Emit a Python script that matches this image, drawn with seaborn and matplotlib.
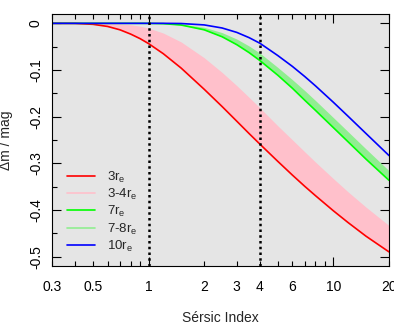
import matplotlib
matplotlib.use("Agg")
import matplotlib.pyplot as plt
import seaborn as sns
from matplotlib.ticker import FixedLocator, FixedFormatter
from matplotlib.lines import Line2D

# Sersic index samples and magnitude offsets
sersic_n = [0.3, 0.4, 0.5, 0.6, 0.7, 0.8, 0.9, 1.0, 1.2, 1.5, 2, 2.5, 3, 3.5, 4,
            5, 6, 7, 8, 10, 12, 15, 20]
dm_3re = [0.0, -0.0002, -0.0021, -0.0067, -0.0139, -0.0231, -0.0329, -0.0435,
          -0.065, -0.0959, -0.1414, -0.1784, -0.2097, -0.2363, -0.2588,
          -0.2957, -0.3252, -0.3493, -0.3693, -0.4017, -0.4268, -0.456, -0.4898]
dm_4re = [0.0, 0.0, 0.0, -0.0003, -0.0012, -0.0031, -0.0061, -0.0102,
          -0.0208, -0.0399, -0.0738, -0.1053, -0.1335, -0.1587, -0.181,
          -0.2195, -0.2497, -0.2753, -0.2973, -0.3328, -0.361, -0.3937, -0.4333]
dm_7re = [0.0, 0.0, 0.0, 0.0, 0.0, 0.0, 0.0, -0.0001,
          -0.0007, -0.0036, -0.0139, -0.0288, -0.0457, -0.0628, -0.0797,
          -0.1111, -0.1391, -0.1648, -0.1865, -0.2235, -0.2537, -0.2908, -0.3364]
dm_8re = [0.0, 0.0, 0.0, 0.0, 0.0, 0.0, 0.0, 0.0,
          -0.0002, -0.0017, -0.0085, -0.0199, -0.0337, -0.0486, -0.0637,
          -0.0944, -0.1207, -0.1441, -0.1654, -0.202, -0.2321, -0.269, -0.3158]
dm_10re = [0.0, 0.0, 0.0, 0.0, 0.0, 0.0, 0.0, 0.0,
           0.0, -0.0004, -0.0034, -0.01, -0.0194, -0.0307, -0.0426,
           -0.069, -0.0923, -0.114, -0.134, -0.1692, -0.199, -0.2359, -0.2833]

marker_n = [1, 4]

x_major = [1, 10]
x_major_labels = ["1", "10"]
x_minor = [0.3, 0.4, 0.5, 0.6, 0.7, 0.8, 0.9, 2, 3, 4, 5, 6, 7, 8, 9, 20]
x_minor_labels = ["0.3", "", "0.5", "", "", "", "", "2", "3", "4", "", "6", "", "", "", "20"]
y_major = [0, -0.1, -0.2, -0.3, -0.4, -0.5]
y_major_labels = ["0", "-0.1", "-0.2", "-0.3", "-0.4", "-0.5"]
y_minor = [-0.05, -0.15, -0.25, -0.35, -0.45]

legend_labels = ["3r$_\\mathregular{e}$", "3-4r$_\\mathregular{e}$", "7r$_\\mathregular{e}$",
                 "7-8r$_\\mathregular{e}$", "10r$_\\mathregular{e}$"]
legend_colors = ["#ff0000", "#ffc0cb", "#00ff00", "#90ee90", "#0000ff"]

sns.set_style("ticks", {"axes.facecolor": "#e5e5e5", "axes.edgecolor": "black",
                        "xtick.color": "black", "ytick.color": "black"})
plt.rcParams["font.family"] = ["Liberation Sans", "DejaVu Sans"]
plt.rcParams["axes.unicode_minus"] = False

fig = plt.figure(figsize=(3.94, 3.28), dpi=100)
ax = fig.add_axes([52 / 394, 62 / 328, 337 / 394, 252 / 328])

ax.fill_between(sersic_n, dm_3re, dm_4re, color="#ffc0cb", lw=0)
sns.lineplot(x=sersic_n, y=dm_3re, color="#ff0000", lw=1.2, ax=ax)
ax.fill_between(sersic_n, dm_7re, dm_8re, color="#90ee90", lw=0)
sns.lineplot(x=sersic_n, y=dm_7re, color="#00ff00", lw=1.2, ax=ax)
sns.lineplot(x=sersic_n, y=dm_10re, color="#0000ff", lw=1.2, ax=ax)

for n in marker_n:
    ax.axvline(n, color="black", ls=(0, (1, 1.3)), lw=1.8, zorder=5)

ax.set_xscale("log")
ax.set_xlim(0.3, 20)
ax.set_ylim(-0.52, 0.02)

ax.xaxis.set_major_locator(FixedLocator(x_major))
ax.xaxis.set_major_formatter(FixedFormatter(x_major_labels))
ax.xaxis.set_minor_locator(FixedLocator(x_minor))
ax.xaxis.set_minor_formatter(FixedFormatter(x_minor_labels))
ax.yaxis.set_major_locator(FixedLocator(y_major))
ax.yaxis.set_major_formatter(FixedFormatter(y_major_labels))
ax.yaxis.set_minor_locator(FixedLocator(y_minor))

ax.tick_params(which="both", direction="in", top=True, right=True, width=0.8,
               labelsize=10)
ax.tick_params(which="major", length=6.2)
ax.tick_params(which="minor", length=3.3)
ax.tick_params(axis="x", which="both", pad=10)
ax.tick_params(axis="y", which="both", pad=6.5)
plt.setp(ax.get_yticklabels(), rotation=90, va="center")
for s in ax.spines.values():
    s.set_linewidth(0.8)

ax.set_xlabel("")
ax.set_ylabel("")
fig.text(220 / 394, 1 - 318 / 328, "Sérsic Index", ha="center", va="center", fontsize=10)
fig.text(6 / 394, 1 - 140 / 328, "Δm / mag", ha="center", va="center",
         rotation=90, fontsize=10)

handles = [Line2D([], [], color=c, lw=1.2) for c in legend_colors]
ax.legend(handles, legend_labels, loc="lower left", bbox_to_anchor=(0.045, 0.048),
          frameon=False, fontsize=9.5, handlelength=2.1, handletextpad=0.9,
          labelspacing=0.17, borderaxespad=0, borderpad=0)

fig.savefig("out.png", dpi=100)
